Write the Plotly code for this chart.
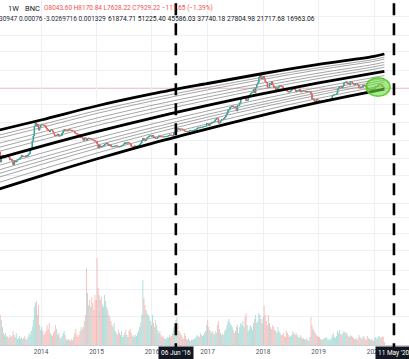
import math
import pandas as pd
import plotly.graph_objects as go

# ---------------- data ----------------
segment_starts = ['2013-04-01', '2014-01-06', '2015-01-05', '2016-01-04',
                  '2017-01-02', '2018-01-01', '2019-01-07', '2020-01-06']

closes_2013 = [165, 90, 127, 135, 115, 117, 122, 133, 129, 120, 102, 107, 97,
               77, 98, 90, 95, 105, 106, 112, 120, 135, 125, 126, 125, 133, 128,
               140, 150, 185, 205, 320, 440, 800, 960, 780, 880, 620, 740, 850]
closes_2014 = [880, 850, 830, 800, 700, 650, 600, 570, 630, 640, 580, 500, 450,
               440, 460, 490, 430, 440, 450, 520, 580, 650, 595, 595, 595, 640,
               630, 620, 600, 590, 590, 520, 510, 490, 480, 475, 400, 405, 380,
               335, 390, 380, 330, 375, 385, 375, 375, 350, 345, 330, 320, 315]
closes_2015 = [270, 210, 250, 230, 225, 235, 245, 260, 275, 285, 265, 245, 255,
               235, 225, 230, 235, 240, 240, 235, 230, 225, 235, 245, 250, 270,
               290, 275, 290, 295, 280, 265, 230, 230, 230, 240, 230, 235, 240,
               245, 265, 285, 330, 380, 330, 325, 370, 390, 415, 440, 440, 430]
closes_2016 = [450, 385, 405, 375, 375, 400, 440, 425, 415, 415, 410, 415, 420,
               420, 430, 450, 465, 460, 455, 440, 530, 540, 580, 690, 680, 650,
               670, 665, 655, 625, 590, 570, 580, 570, 575, 605, 610, 600, 610,
               615, 640, 655, 700, 720, 710, 740, 735, 750, 765, 780, 790, 930]
closes_2017 = [900, 820, 920, 920, 1010, 1000, 1050, 1170, 1250, 1240, 950, 960,
               1080, 1190, 1180, 1250, 1350, 1560, 1720, 2050, 2200, 2500, 2550,
               2650, 2500, 2480, 2550, 1980, 2750, 2750, 3250, 4050, 4100, 4350,
               4700, 4300, 3700, 3780, 4400, 4600, 5700, 6000, 6150, 7400, 5900,
               8000, 9800, 11000, 15000, 19000, 13900, 14200]
closes_2018 = [16200, 13600, 11500, 11000, 8200, 8100, 10400, 9600, 11500, 9500,
               8200, 8400, 6900, 7000, 8300, 8900, 9300, 8700, 8500, 7500, 7350,
               7500, 6700, 6400, 6200, 6350, 6750, 7300, 8200, 8200, 7000, 6300,
               6700, 6700, 7300, 6200, 6500, 6700, 6600, 6600, 6300, 6500, 6350,
               6400, 6400, 5600, 4000, 4100, 3600, 3200, 4000, 3850, 3700]
closes_2019 = [3550, 3550, 3530, 3450, 3650, 3650, 3850, 3850, 3900, 4000, 4000,
               4100, 5050, 5250, 5300, 5350, 5750, 7250, 8000, 8750, 8600, 8000,
               8950, 10850, 11250, 11500, 10300, 10500, 9500, 11700, 11400, 10300,
               10100, 9600, 10300, 10300, 9700, 8200, 7900, 8300, 8250, 9550, 9200,
               8800, 8500, 7050, 7550, 7400, 7100, 7500, 7250, 7350]
closes_2020 = [8200, 8650, 8600, 9350, 9900, 9900, 9650, 8550, 8043.60, 7929.22]
first_open = 93.0
last_high = 8170.84
last_low = 7628.22

volume_2013 = [38, 30, 25, 18, 12, 10, 12, 8, 9, 7, 10, 8, 9, 14, 10, 8, 12, 6,
               7, 9, 6, 8, 6, 7, 9, 6, 5, 8, 12, 10, 14, 18, 25, 38, 42, 44, 30,
               40, 20, 15]
volume_2014 = [18, 14, 10, 12, 14, 20, 16, 22, 12, 10, 9, 12, 14, 20, 16, 10, 12,
               8, 6, 9, 12, 14, 10, 6, 5, 6, 5, 4, 6, 5, 8, 12, 16, 10, 8, 10, 14,
               18, 16, 18, 24, 30, 77, 52, 40, 45, 38, 48, 42, 35, 50, 45]
volume_2015 = [87, 57, 50, 45, 48, 40, 38, 50, 44, 38, 35, 30, 28, 24, 20, 18, 22,
               14, 12, 10, 15, 12, 10, 14, 8, 10, 12, 15, 10, 8, 14, 16, 12, 9, 10,
               8, 10, 9, 12, 14, 18, 22, 30, 65, 47, 40, 35, 32, 30, 28, 24, 20]
volume_2016 = [30, 22, 18, 25, 20, 15, 12, 14, 10, 8, 9, 7, 6, 6, 8, 7, 10, 8, 9,
               12, 18, 15, 25, 28, 22, 14, 12, 10, 8, 6, 12, 9, 6, 5, 7, 5, 4, 6,
               5, 6, 7, 8, 10, 9, 8, 12, 10, 9, 10, 12, 14, 20]
volume_2017 = [25, 18, 15, 12, 14, 12, 10, 14, 12, 20, 24, 16, 12, 10, 12, 10, 14,
               16, 20, 24, 26, 22, 20, 18, 15, 12, 14, 18, 20, 12, 18, 22, 20, 24,
               18, 28, 32, 20, 14, 16, 20, 18, 15, 22, 26, 30, 22, 24, 32, 30, 26, 22]
volume_2018 = [28, 39, 30, 24, 20, 30, 22, 18, 16, 20, 18, 15, 14, 12, 18, 14, 12,
               10, 10, 12, 9, 8, 14, 12, 10, 8, 9, 10, 14, 12, 10, 12, 10, 8, 7,
               10, 8, 6, 7, 6, 5, 7, 5, 4, 8, 28, 20, 16, 14, 12, 10, 9, 8]
volume_2019 = [8, 6, 5, 6, 6, 7, 8, 7, 5, 6, 5, 7, 10, 12, 8, 7, 9, 14, 12, 15, 11,
               10, 12, 14, 12, 13, 11, 9, 8, 10, 9, 8, 7, 6, 6, 7, 5, 10, 8, 7, 6,
               9, 8, 6, 5, 9, 7, 6, 5, 6, 5, 4]
volume_2020 = [7, 8, 6, 8, 9, 8, 7, 9, 8, 3]

# regression bands
band_dates = ['2013-04-01', '2014-01-01', '2015-01-01', '2016-01-01', '2017-01-01',
              '2018-01-01', '2019-01-01', '2020-01-01', '2020-03-09']
band_upper = [626, 1147, 2672, 5520, 10408, 19047, 33020, 53539, 61874.71]
band_middle = [115.4, 232.6, 565.3, 1286, 2771, 5653, 10790, 19395, 21717.68]
band_lower = [17.71, 39.34, 108.5, 280.5, 673.3, 1541, 3302, 6574, 7374]
upper_levels = [0.236, 0.382, 0.528, 0.708, 0.82]
lower_levels = [0.236, 0.382, 0.5, 0.618, 0.786]

current_price = 7929.22
event_dates = ['2016-06-06', '2020-05-11']
event_labels = ["06 Jun '16", "11 May '20"]
year_ticks = ['2014-01-01', '2015-01-01', '2016-01-01', '2017-01-01',
              '2018-01-01', '2019-01-01', '2020-01-01']
year_labels = ['2014', '2015', '2016', '2017', '2018', '2019', '2020']
grid_prices = [580000, 195000, 70000, 23500, 8000, 2840, 1000, 342, 115, 39,
               7.6, 3.26, 1.17, 0.418, 0.132, 0.042, 0.0082]

# ---------------- assemble ----------------
close_segments = [closes_2013, closes_2014, closes_2015, closes_2016,
                  closes_2017, closes_2018, closes_2019, closes_2020]
volume_segments = [volume_2013, volume_2014, volume_2015, volume_2016,
                   volume_2017, volume_2018, volume_2019, volume_2020]
dates, closes, volumes = [], [], []
for start, cs, vs in zip(segment_starts, close_segments, volume_segments):
    dates += list(pd.date_range(start, periods=len(cs), freq='7D'))
    closes += cs
    volumes += vs
opens = [first_open] + closes[:-1]
highs = [max(o, c) for o, c in zip(opens, closes)]
lows = [min(o, c) for o, c in zip(opens, closes)]
highs[-1] = last_high
lows[-1] = last_low

UP = '#26a69a'
DOWN = '#ef5350'
vol_colors = ['rgba(38,166,154,0.38)' if c >= o else 'rgba(239,83,80,0.38)'
              for o, c in zip(opens, closes)]

fig = go.Figure()
fig.add_trace(go.Bar(x=dates, y=volumes, marker=dict(color=vol_colors, line=dict(width=0)),
                     yaxis='y2', hoverinfo='skip'))


def level(f, a, b):
    return [10 ** (math.log10(x) + f * (math.log10(y) - math.log10(x))) for x, y in zip(a, b)]


for f in upper_levels:
    fig.add_trace(go.Scatter(x=band_dates, y=level(f, band_middle, band_upper), mode='lines',
                             line=dict(color='#8f8f8f', width=0.8, shape='spline')))
for f in lower_levels:
    fig.add_trace(go.Scatter(x=band_dates, y=level(f, band_middle, band_lower), mode='lines',
                             line=dict(color='#8f8f8f', width=0.8, shape='spline')))
for band in (band_upper, band_middle, band_lower):
    fig.add_trace(go.Scatter(x=band_dates, y=band, mode='lines',
                             line=dict(color='#000000', width=2.8, shape='spline')))

fig.add_trace(go.Candlestick(x=dates, open=opens, high=highs, low=lows, close=closes,
                             increasing=dict(line=dict(color=UP, width=1), fillcolor=UP),
                             decreasing=dict(line=dict(color=DOWN, width=1), fillcolor=DOWN),
                             whiskerwidth=0))

shapes = [
    dict(type='line', xref='paper', x0=0, x1=1, yref='y', y0=current_price, y1=current_price,
         line=dict(color='rgba(239,83,80,0.65)', width=1), layer='below'),
    dict(type='circle', xref='x', yref='y', x0='2019-11-10', x1='2020-04-15', y0=4800, y1=14800,
         fillcolor='rgba(110,222,60,0.6)', line=dict(color='rgba(80,200,40,0.9)', width=1.5)),
]
for d in event_dates:
    shapes.append(dict(type='line', xref='x', x0=d, x1=d, yref='paper', y0=-0.03, y1=1,
                       line=dict(color='#000000', width=2.6, dash='12px,8px')))

H = 345.0
W = 409.0
annotations = []
for d, t in zip(event_dates, event_labels):
    annotations.append(dict(x=d, xref='x', y=0, yref='paper', yanchor='top', yshift=-1,
                            text=t, showarrow=False, bgcolor='#131722', borderpad=2,
                            font=dict(family='Roboto', size=6.5, color='#ffffff')))


def hdr(xpx, ypx, text, size, color):
    annotations.append(dict(x=xpx / W, y=1 - ypx / H, xref='paper', yref='paper',
                            xanchor='left', yanchor='middle', text=text, showarrow=False,
                            font=dict(family='Roboto', size=size, color=color)))


hdr(6, 8, '1W', 7.5, '#131722')
hdr(23, 8, 'BNC', 7.5, '#131722')
hdr(42, 8, 'O8043.60 H8170.84 L7628.22 C7929.22 \u2212111.65 (\u22121.39%)', 6.5, '#ef5350')
hdr(-3, 19, '30947 0.00076 -3.0269716 0.001329', 6.5, '#2a2e39')
hdr(106, 19, '61874.71 51225.40 45586.03 37740.18 27804.98 21717.68 16963.06', 6.7, '#131722')

fig.update_layout(
    width=409, height=359,
    margin=dict(l=0, r=0, t=0, b=14),
    paper_bgcolor='#ffffff', plot_bgcolor='#ffffff',
    showlegend=False, bargap=0.15,
    shapes=shapes, annotations=annotations,
    xaxis=dict(type='date', range=['2013-04-06', '2020-08-18'],
               tickvals=year_ticks, ticktext=year_labels, ticks='',
               tickfont=dict(family='Roboto', size=6.5, color='#50535e'),
               showgrid=True, gridcolor='#edf0f6', gridwidth=1,
               showline=True, linecolor='#c9ccd3', linewidth=1,
               rangeslider=dict(visible=False), zeroline=False),
    yaxis=dict(type='log', range=[-2.8462, 6.2089], tickvals=grid_prices,
               showticklabels=False, showgrid=True, gridcolor='#edf0f6', gridwidth=1,
               zeroline=False, ticks=''),
    yaxis2=dict(overlaying='y', range=[0, 345], visible=False, showgrid=False),
)

fig.write_html('out.html', config={'displayModeBar': False},
               post_script="document.body.style.margin='0px';document.body.style.overflow='hidden';")
